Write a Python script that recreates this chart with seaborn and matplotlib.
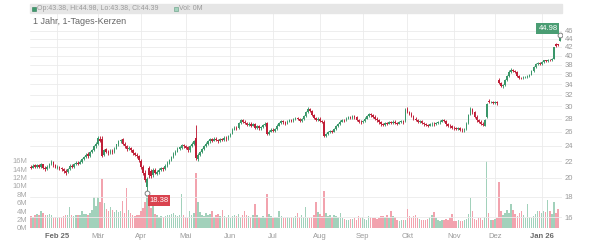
import numpy as np
import pandas as pd
import matplotlib
matplotlib.use("Agg")
import matplotlib.pyplot as plt
from matplotlib.patches import Rectangle
from matplotlib.ticker import NullLocator
import seaborn as sns

# ---------------- data ----------------
dates = pd.bdate_range("2025-01-15", "2026-01-14")

opens = [
    21.3, 21.2, 21.5, 21.3, 21.5, 21.3, 21.6, 21.2, 21.0, 21.3,
    21.6, 21.9, 21.5, 21.2, 21.3, 21.1, 21.0, 20.8, 20.7, 21.0,
    21.4, 21.3, 21.6, 21.8, 21.7, 21.9, 22.2, 22.5, 22.9, 22.6,
    23.1, 23.4, 23.9, 24.3, 25.0, 25.0, 22.8, 23.5, 23.2, 23.0,
    23.3, 23.1, 23.6, 24.2, 24.6, 24.9, 24.3, 24.0, 23.5, 23.7,
    23.4, 23.0, 22.8, 22.6, 22.0, 21.3, 20.6, 19.0, 21.2, 20.8,
    20.3, 20.9, 20.5, 20.7, 20.9, 21.1, 21.0, 21.4, 21.8, 22.1,
    22.5, 22.9, 23.2, 23.6, 23.7, 24.1, 23.9, 23.8, 23.4, 23.9,
    24.3, 25.1, 22.3, 22.8, 23.1, 23.5, 23.9, 24.3, 24.6, 24.9,
    24.7, 25.0, 24.8, 24.6, 24.9, 24.8, 25.1, 24.9, 25.3, 25.7,
    26.3, 26.6, 26.5, 27.3, 27.7, 27.5, 27.3, 27.0, 27.2, 26.9,
    27.1, 26.6, 26.8, 26.5, 26.7, 27.0, 27.3, 25.7, 26.0, 26.3,
    26.1, 26.4, 26.9, 27.3, 27.6, 27.4, 27.2, 27.5, 27.8, 27.6,
    27.9, 28.1, 27.9, 27.6, 27.9, 28.4, 29.0, 29.6, 29.2, 28.6,
    28.1, 27.8, 28.0, 27.6, 27.5, 25.4, 25.6, 25.9, 26.1, 26.0,
    26.4, 26.8, 27.1, 27.5, 27.8, 27.7, 28.0, 28.2, 28.1, 28.4,
    28.2, 27.8, 27.5, 27.4, 27.6, 28.0, 28.4, 28.7, 28.5, 28.3,
    28.0, 27.7, 27.4, 27.1, 27.0, 27.3, 27.2, 27.4, 27.3, 27.5,
    27.3, 27.2, 27.4, 27.6, 27.6, 29.6, 29.1, 28.8, 28.4, 28.0,
    27.8, 27.5, 27.6, 27.3, 27.1, 27.0, 26.9, 27.1, 27.2, 27.1,
    27.3, 27.4, 27.5, 27.7, 27.6, 27.1, 26.9, 26.8, 26.6, 26.5,
    26.4, 26.5, 26.3, 26.2, 26.4, 27.3, 28.6, 29.6, 29.0, 28.3,
    27.7, 27.5, 27.2, 26.9, 28.2, 31.0, 30.7, 30.8, 30.6, 30.7,
    34.9, 34.2, 33.6, 33.9, 34.8, 35.7, 36.5, 36.9, 36.6, 36.4,
    35.7, 35.3, 35.2, 35.4, 35.5, 35.7, 35.9, 36.6, 37.4, 38.1,
    38.4, 38.2, 38.6, 38.9, 38.7, 39.1, 38.9, 39.3, 42.7, 42.6, 43.38,
]
closes = [
    21.2, 21.4, 21.3, 21.5, 21.3, 21.6, 21.2, 21.0, 21.3, 21.6,
    21.9, 21.5, 21.2, 21.3, 21.1, 21.0, 20.8, 20.6, 21.0, 21.4,
    21.3, 21.6, 21.8, 21.7, 21.9, 22.2, 22.5, 22.8, 22.6, 23.1,
    23.4, 23.9, 24.3, 25.1, 24.7, 22.7, 23.4, 23.2, 23.0, 23.3,
    23.1, 23.6, 24.2, 24.6, 24.8, 24.3, 23.9, 23.5, 23.7, 23.4,
    23.0, 22.8, 22.6, 22.1, 21.3, 20.6, 19.8, 19.9, 20.3, 20.2,
    20.9, 20.6, 20.7, 20.9, 21.1, 21.0, 21.4, 21.8, 22.1, 22.5,
    22.9, 23.2, 23.6, 23.8, 24.1, 23.9, 23.7, 23.4, 23.9, 24.3,
    24.6, 22.4, 22.8, 23.1, 23.5, 23.9, 24.3, 24.6, 24.9, 24.7,
    25.0, 24.8, 24.6, 24.9, 24.8, 25.1, 24.9, 25.3, 25.6, 26.3,
    26.6, 26.4, 27.3, 27.7, 27.5, 27.3, 27.0, 27.2, 26.9, 27.1,
    26.6, 26.8, 26.5, 26.7, 27.0, 27.2, 25.7, 26.0, 26.3, 26.1,
    26.4, 26.9, 27.3, 27.6, 27.4, 27.2, 27.5, 27.8, 27.6, 27.9,
    28.1, 27.9, 27.6, 27.9, 28.4, 29.0, 29.6, 29.2, 28.6, 28.1,
    27.8, 28.0, 27.6, 27.5, 25.4, 25.6, 25.9, 26.1, 26.0, 26.4,
    26.8, 27.1, 27.5, 27.8, 27.7, 28.0, 28.2, 28.1, 28.4, 28.2,
    27.8, 27.5, 27.4, 27.6, 28.0, 28.4, 28.7, 28.5, 28.3, 28.0,
    27.7, 27.4, 27.1, 27.0, 27.3, 27.2, 27.4, 27.3, 27.5, 27.3,
    27.2, 27.4, 27.6, 27.4, 29.4, 29.1, 28.8, 28.4, 28.0, 27.8,
    27.5, 27.6, 27.3, 27.1, 27.0, 26.9, 27.1, 27.2, 27.1, 27.3,
    27.4, 27.5, 27.7, 27.6, 27.1, 26.9, 26.8, 26.6, 26.5, 26.4,
    26.5, 26.3, 26.2, 26.4, 27.2, 28.6, 29.6, 29.0, 28.3, 27.7,
    27.5, 27.2, 27.0, 27.8, 30.4, 30.7, 30.8, 30.6, 30.7, 30.5,
    34.3, 33.6, 33.9, 34.8, 35.7, 36.5, 36.9, 36.6, 36.4, 35.7,
    35.3, 35.2, 35.4, 35.5, 35.7, 35.9, 36.6, 37.4, 38.1, 38.4,
    38.2, 38.6, 38.9, 38.7, 39.0, 38.9, 39.2, 41.9, 42.2, 42.4, 44.39,
]
highs = [
    21.5, 21.6, 21.6, 21.7, 21.6, 21.8, 21.7, 21.4, 21.5, 21.8,
    22.1, 22.0, 21.6, 21.5, 21.4, 21.3, 21.1, 21.0, 21.2, 21.6,
    21.6, 21.8, 22.0, 22.0, 22.1, 22.4, 22.7, 23.0, 23.1, 23.3,
    23.6, 24.1, 24.5, 25.4, 25.3, 25.4, 23.6, 23.7, 23.4, 23.5,
    23.5, 23.8, 24.3, 24.8, 25.0, 25.1, 24.5, 24.1, 23.9, 23.8,
    23.5, 23.2, 23.0, 22.8, 22.2, 21.5, 20.9, 20.1, 21.4, 21.0,
    21.1, 21.1, 20.9, 21.1, 21.3, 21.3, 21.6, 22.0, 22.3, 22.7,
    23.1, 23.4, 23.8, 24.0, 24.3, 24.3, 24.1, 24.0, 24.1, 24.5,
    24.8, 27.0, 23.0, 23.3, 23.7, 24.1, 24.5, 24.8, 25.1, 25.1,
    25.2, 25.2, 25.0, 25.1, 25.1, 25.3, 25.3, 25.5, 25.8, 26.5,
    26.8, 26.8, 27.5, 27.9, 27.9, 27.7, 27.5, 27.4, 27.4, 27.3,
    27.3, 27.0, 27.0, 26.9, 27.2, 27.4, 27.5, 26.2, 26.5, 26.5,
    26.6, 27.1, 27.5, 27.8, 27.8, 27.6, 27.7, 28.0, 28.0, 28.1,
    28.3, 28.3, 28.1, 28.1, 28.6, 29.2, 29.9, 29.8, 29.4, 28.8,
    28.3, 28.2, 28.2, 27.8, 27.7, 25.8, 26.1, 26.3, 26.3, 26.6,
    27.0, 27.3, 27.7, 28.0, 28.0, 28.2, 28.4, 28.4, 28.6, 28.6,
    28.4, 28.0, 27.7, 27.8, 28.2, 28.6, 28.9, 28.9, 28.7, 28.5,
    28.2, 27.9, 27.6, 27.3, 27.5, 27.5, 27.6, 27.6, 27.7, 27.7,
    27.5, 27.6, 27.8, 27.8, 29.8, 29.9, 29.3, 29.0, 28.6, 28.2,
    28.0, 27.8, 27.8, 27.5, 27.3, 27.2, 27.3, 27.4, 27.4, 27.5,
    27.6, 27.7, 27.9, 27.9, 27.8, 27.3, 27.1, 27.0, 26.8, 26.7,
    26.7, 26.7, 26.5, 26.6, 27.4, 28.8, 29.9, 29.8, 29.2, 28.5,
    27.9, 27.7, 27.4, 28.0, 30.6, 31.3, 31.0, 31.0, 30.9, 30.9,
    35.2, 34.5, 34.1, 35.0, 35.9, 36.8, 37.2, 37.1, 36.8, 36.6,
    35.9, 35.5, 35.6, 35.7, 35.9, 36.1, 36.8, 37.6, 38.3, 38.6,
    38.6, 38.8, 39.1, 39.1, 39.2, 39.3, 39.4, 42.1, 42.9, 42.8, 44.98,
]
lows = [
    21.0, 21.1, 21.2, 21.2, 21.2, 21.2, 21.0, 20.8, 20.9, 21.2,
    21.5, 21.3, 21.1, 21.0, 20.9, 20.8, 20.6, 20.3, 20.6, 20.9,
    21.1, 21.2, 21.5, 21.5, 21.6, 21.8, 22.1, 22.4, 22.4, 22.5,
    23.0, 23.3, 23.7, 24.1, 24.5, 22.5, 22.6, 23.0, 22.8, 22.9,
    22.9, 23.0, 23.5, 24.0, 24.4, 24.1, 23.7, 23.3, 23.4, 23.2,
    22.8, 22.6, 22.4, 21.9, 21.0, 20.3, 19.5, 18.38, 20.0, 20.0,
    20.1, 20.4, 20.3, 20.5, 20.8, 20.8, 20.9, 21.3, 21.7, 22.0,
    22.4, 22.8, 23.1, 23.4, 23.5, 23.7, 23.5, 23.2, 23.2, 23.8,
    24.1, 22.1, 22.0, 22.6, 23.0, 23.4, 23.8, 24.1, 24.4, 24.5,
    24.6, 24.6, 24.4, 24.5, 24.6, 24.7, 24.7, 24.8, 25.2, 25.6,
    26.2, 26.2, 26.4, 27.2, 27.3, 27.1, 26.8, 26.9, 26.7, 26.8,
    26.4, 26.4, 26.3, 26.3, 26.6, 26.9, 25.5, 25.5, 25.9, 25.9,
    26.0, 26.3, 26.8, 27.2, 27.2, 27.0, 27.1, 27.4, 27.4, 27.5,
    27.8, 27.7, 27.4, 27.5, 27.8, 28.3, 28.9, 29.0, 28.4, 27.9,
    27.6, 27.6, 27.4, 27.3, 25.2, 25.2, 25.5, 25.8, 25.8, 25.9,
    26.3, 26.7, 27.0, 27.4, 27.5, 27.6, 27.9, 27.9, 28.0, 28.0,
    27.6, 27.3, 27.2, 27.3, 27.5, 27.9, 28.3, 28.3, 28.1, 27.8,
    27.5, 27.2, 26.9, 26.8, 26.9, 27.0, 27.1, 27.1, 27.2, 27.1,
    27.0, 27.1, 27.3, 27.2, 27.5, 28.9, 28.6, 28.2, 27.8, 27.6,
    27.3, 27.3, 27.1, 26.9, 26.8, 26.7, 26.8, 26.9, 26.9, 27.0,
    27.2, 27.2, 27.4, 27.4, 26.9, 26.7, 26.6, 26.4, 26.3, 26.2,
    26.3, 26.1, 26.0, 26.0, 26.3, 27.2, 28.5, 28.8, 28.1, 27.5,
    27.3, 27.0, 26.8, 26.8, 28.1, 30.5, 30.5, 30.4, 30.4, 30.3,
    34.1, 33.4, 33.3, 33.7, 34.6, 35.5, 36.3, 36.4, 36.2, 35.5,
    35.1, 35.0, 35.0, 35.2, 35.3, 35.5, 35.8, 36.5, 37.3, 38.0,
    38.0, 38.0, 38.4, 38.5, 38.5, 38.7, 38.7, 39.2, 42.0, 42.2, 43.38,
]
volumes_m = [
    2.9, 2.7, 3.1, 3.3, 3.0, 4.1, 3.6, 3.0, 3.2, 3.4,
    3.1, 2.5, 2.7, 2.4, 2.6, 2.5, 2.8, 3.2, 3.0, 4.9,
    3.0, 2.8, 3.2, 3.1, 3.0, 4.1, 3.3, 3.4, 3.2, 3.6,
    4.2, 7.3, 5.2, 7.5, 6.3, 11.7, 6.0, 4.6, 4.0, 5.0,
    4.3, 3.8, 4.2, 3.9, 4.1, 6.5, 3.6, 9.5, 4.4, 3.5,
    3.2, 2.9, 3.0, 3.1, 4.1, 4.8, 6.3, 8.6, 7.1, 4.8,
    5.5, 3.4, 3.0, 2.7, 2.9, 2.6, 2.8, 3.2, 3.0, 3.3,
    3.5, 3.1, 2.9, 3.2, 8.1, 3.0, 2.6, 2.5, 4.1, 3.2,
    3.6, 13.1, 6.3, 3.8, 3.2, 2.9, 3.6, 3.0, 3.4, 4.0,
    2.7, 3.0, 3.3, 2.8, 4.4, 2.9, 2.6, 3.0, 2.5, 2.8,
    3.1, 2.9, 3.4, 2.6, 3.0, 4.0, 3.2, 2.8, 2.6, 3.0,
    5.6, 3.1, 2.6, 2.4, 2.8, 2.5, 8.1, 3.4, 2.9, 2.3,
    2.7, 2.6, 4.0, 2.9, 2.5, 2.4, 2.7, 2.3, 2.6, 2.5,
    2.8, 3.5, 2.7, 3.0, 2.6, 4.9, 2.3, 2.4, 2.6, 3.2,
    6.3, 3.8, 3.3, 2.9, 8.9, 3.6, 2.8, 3.2, 2.7, 3.0,
    2.8, 2.6, 3.6, 2.4, 2.2, 2.0, 1.9, 2.1, 2.2, 2.4,
    2.0, 2.8, 2.3, 2.7, 2.1, 2.0, 2.9, 2.6, 2.4, 2.3,
    2.2, 2.5, 2.9, 2.8, 2.6, 3.2, 2.4, 4.0, 2.8, 2.6,
    1.8, 1.7, 1.9, 2.0, 1.8, 4.6, 2.8, 2.4, 2.9, 3.1,
    2.4, 2.2, 2.0, 1.8, 2.0, 2.1, 2.6, 3.2, 3.8, 2.4,
    1.9, 1.7, 1.8, 1.9, 2.2, 2.0, 2.3, 3.3, 1.6, 1.7,
    1.8, 1.6, 1.7, 1.9, 2.2, 3.4, 7.1, 4.0, 2.2, 1.9,
    2.5, 2.3, 2.0, 2.6, 15.9, 3.6, 1.9, 1.8, 2.2, 2.5,
    11.0, 4.1, 3.0, 3.5, 4.4, 3.6, 5.8, 4.4, 3.3, 2.9,
    3.6, 4.1, 3.0, 2.5, 5.8, 2.7, 2.3, 2.9, 3.3, 4.1,
    4.1, 3.5, 4.1, 3.8, 6.6, 4.0, 3.4, 6.3, 3.6, 4.5, 0.0,
]

month_labels = ["Feb 25", "Mär", "Apr", "Mai", "Jun", "Jul", "Aug",
                "Sep", "Okt", "Nov", "Dez", "Jan 26"]
bold_labels = ["Feb 25", "Jan 26"]
price_ticks = [16, 18, 20, 22, 24, 26, 28, 30, 32, 34, 36, 38, 40, 42, 44, 46]
volume_ticks_m = [0, 2, 4, 6, 8, 10, 12, 14, 16]
title_text = "1 Jahr, 1-Tages-Kerzen"
ohlc_text = "Op:43.38, Hi:44.98, Lo:43.38, Cl:44.39"
vol_text = "Vol: 0M"
low_value = 18.38
high_value = 44.98

# ---------------- style ----------------
sns.set_theme(style="white")
plt.rcParams["font.family"] = ["Liberation Sans", "DejaVu Sans"]

UP = "#3a976a"
DOWN = "#c01f38"
VUP = "#a2d1bb"
VDOWN = "#f2a3ae"
GRID = "#ebebeb"
LABEL = "#9a9a9a"

df = pd.DataFrame({"date": dates, "open": opens, "high": highs, "low": lows,
                   "close": closes, "volume": np.array(volumes_m) * 1e6})
df["pos"] = np.arange(len(df))
df["up"] = df["close"] >= df["open"]

# first trading day of each month (skip the partial first month)
firsts = df.groupby([df["date"].dt.year, df["date"].dt.month])["pos"].min().values[1:]

W, H = 600, 240
fig = plt.figure(figsize=(W / 100, H / 100), dpi=100)
ax_v = fig.add_axes([30 / W, 12 / H, 532 / W, 215 / H])
ax_p = ax_v.twinx()

# volume bars
sns.barplot(data=df, x="pos", y="volume", hue="up", palette={True: VUP, False: VDOWN},
            native_scale=True, width=0.72, dodge=False, legend=False, ax=ax_v,
            linewidth=0, saturation=1)
ax_v.set_ylim(0, 215 / 4.2 * 1e6)
ax_v.set_yticks([v * 1e6 for v in volume_ticks_m])
ax_v.set_yticklabels([f"{v}M" for v in volume_ticks_m])
ax_v.tick_params(axis="y", length=0, pad=2, labelsize=5.5, labelcolor="#a8a8a8")
ax_v.set_xticks(firsts)
ax_v.set_xticklabels(month_labels)
ax_v.tick_params(axis="x", length=0, pad=3.5, labelsize=5.5, labelcolor=LABEL)
for t in ax_v.get_xticklabels():
    if t.get_text() in bold_labels:
        t.set_fontweight("bold")
        t.set_color("#6a6a6a")
ax_v.set_xlabel("")
ax_v.set_ylabel("")
ax_v.grid(axis="x", color=GRID, lw=0.6)
ax_v.grid(axis="y", visible=False)
ax_v.set_axisbelow(True)
ax_v.set_xlim(-0.5, len(df) - 1 + 1.0)

# candles
colors = np.where(df["up"], UP, DOWN)
ax_p.set_yscale("log")
ax_p.vlines(df["pos"], df["low"], df["high"], colors=colors, lw=0.65, zorder=3)
body_lo = np.minimum(df["open"], df["close"])
body_h = np.maximum(np.abs(df["close"] - df["open"]), 0.07)
ax_p.bar(df["pos"], body_h, bottom=body_lo, width=0.8, color=colors, lw=0, zorder=4)
ax_p.set_ylim(15.06, 50.9)
ax_p.set_yticks(price_ticks)
ax_p.set_yticklabels([str(v) for v in price_ticks])
ax_p.yaxis.set_minor_locator(NullLocator())
ax_p.tick_params(axis="y", which="both", length=0, pad=2, labelsize=5.5, labelcolor=LABEL)
ax_p.grid(axis="y", color=GRID, lw=0.6, zorder=0)
ax_p.grid(axis="x", visible=False)
ax_p.set_xlim(ax_v.get_xlim())
ax_p.set_ylabel("")

for a in (ax_v, ax_p):
    for s in a.spines.values():
        s.set_visible(False)

# low / high markers
i_low = int(np.argmin(df["low"]))
i_high = int(np.argmax(df["high"]))
ax_p.scatter([i_low, i_high], [low_value, high_value], s=12, facecolor="white",
             edgecolor="#808080", linewidth=0.7, zorder=6)
ax_p.annotate(f"{low_value:.2f}", (i_low, low_value), xytext=(12, -8),
              textcoords="offset pixels", ha="center", va="center",
              fontsize=5.5, color="white", zorder=7,
              bbox=dict(boxstyle="square,pad=0.25", fc="#d9434f", ec="none"))
ax_p.annotate(f"{high_value:.2f}", (i_high, high_value), xytext=(-12, 6),
              textcoords="offset pixels", ha="center", va="center",
              fontsize=5.5, color="white", zorder=7,
              bbox=dict(boxstyle="square,pad=0.25", fc="#4a9d73", ec="none"))

# header bar
fig.patches.append(Rectangle((30 / W, 1 - 13 / H), 532 / W, 9 / H,
                             transform=fig.transFigure, color="#e6e6e6", zorder=0))
fig.patches.append(Rectangle((31.5 / W, 1 - 11 / H), 4 / W, 4 / H,
                             transform=fig.transFigure, fc="#3f9a6e", ec="#2f7a56",
                             lw=0.4, zorder=1))
fig.text(37 / W, 1 - 8.6 / H, ohlc_text, fontsize=5, color="#9a9a9a",
         va="center", ha="left")
fig.patches.append(Rectangle((173.5 / W, 1 - 11 / H), 4 / W, 4 / H,
                             transform=fig.transFigure, fc="#a5d3be", ec="#5f9a80",
                             lw=0.4, zorder=1))
fig.text(179 / W, 1 - 8.6 / H, vol_text, fontsize=5, color="#9a9a9a",
         va="center", ha="left")
fig.text(33 / W, 1 - 21.5 / H, title_text, fontsize=6.5, color="#666666",
         va="center", ha="left")

fig.savefig("out.png", dpi=100, facecolor="white")
